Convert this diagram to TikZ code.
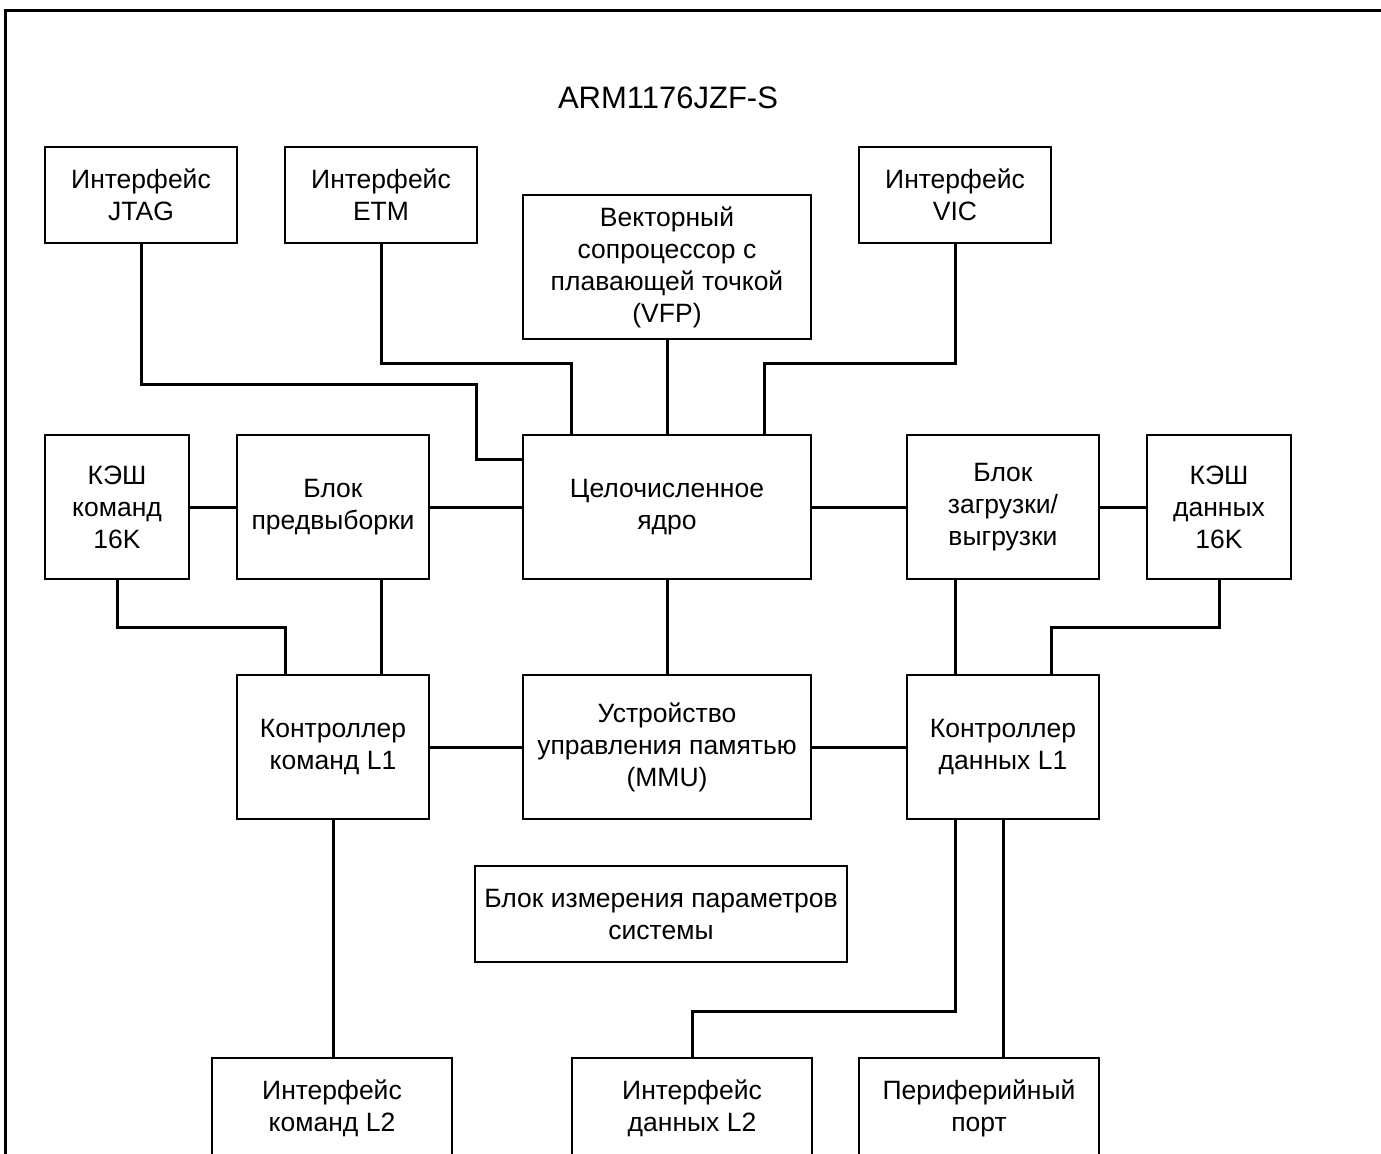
\documentclass[tikz,border=0pt]{standalone}
\usepackage{fontspec}
\setmainfont{Liberation Sans}
\usepackage{tikz}
\tikzset{
  block/.style={
      draw,
      line width=1pt,
      align=center,
      inner sep=0pt,
      font=\fontsize{13.25pt}{16pt}\selectfont
      },
  wire/.style={
      line width=1.5pt,
      line cap=rect
      }
}

\begin{document}
\begin{tikzpicture}[x=0.5pt,y=-0.5pt]
\useasboundingbox (0,0) rectangle (1381,1153);
\clip (0,0) rectangle (1381,1153);
\draw [line width=1.5pt] (5,10) rectangle (1430,1220);
\node [font=\fontsize{15.5pt}{18pt}\selectfont] (title) at (668,98) {ARM1176JZF-S};
\node [block, minimum width=96pt, minimum height=48pt] (jtag) at (141,195) {Интерфейс\\JTAG};
\node [block, minimum width=96pt, minimum height=48pt] (etm) at (381,195) {Интерфейс\\ETM};
\node [block, minimum width=144pt, minimum height=72pt] (vfp) at (667,267) {Векторный\\сопроцессор с\\плавающей точкой\\(VFP)};
\node [block, minimum width=96pt, minimum height=48pt] (vic) at (955,195) {Интерфейс\\VIC};
\node [block, minimum width=72pt, minimum height=72pt] (icache) at (117,507) {КЭШ\\команд\\16K};
\node [block, minimum width=96pt, minimum height=72pt] (prefetch) at (333,507) {Блок\\предвыборки};
\node [block, minimum width=144pt, minimum height=72pt] (core) at (667,507) {Целочисленное\\ядро};
\node [block, minimum width=96pt, minimum height=72pt] (lsu) at (1003,507) {Блок\\загрузки/\\выгрузки};
\node [block, minimum width=72pt, minimum height=72pt] (dcache) at (1219,507) {КЭШ\\данных\\16K};
\node [block, minimum width=96pt, minimum height=72pt] (l1i) at (333,747) {Контроллер\\команд L1};
\node [block, minimum width=144pt, minimum height=72pt] (mmu) at (667,747) {Устройство\\управления памятью\\(MMU)};
\node [block, minimum width=96pt, minimum height=72pt] (l1d) at (1003,747) {Контроллер\\данных L1};
\node [block, minimum width=186pt, minimum height=48pt] (perf) at (661,914) {Блок измерения параметров\\системы};
\node [block, minimum width=120pt, minimum height=50pt] (l2i) at (332,1108) {Интерфейс\\команд L2};
\node [block, minimum width=120pt, minimum height=50pt] (l2d) at (692,1108) {Интерфейс\\данных L2};
\node [block, minimum width=120pt, minimum height=50pt] (port) at (979,1108) {Периферийный\\порт};
\draw [wire] (jtag.south) |- (476,384) |- ([yshift=24pt]core.west);
\draw [wire] (etm.south) |- (571,363) -- ([xshift=-48pt]core.north);
\draw [wire] (vfp) -- (core);
\draw [wire] (vic.south) |- (764,363) -- ([xshift=48.5pt]core.north);
\draw [wire] (icache) -- (prefetch);
\draw [wire] (prefetch) -- (core);
\draw [wire] (core) -- (lsu);
\draw [wire] (lsu) -- (dcache);
\draw [wire] (icache.south) |- (285,627) -- ([xshift=-24pt]l1i.north);
\draw [wire] ([xshift=24pt]prefetch.south) -- ([xshift=24pt]l1i.north);
\draw [wire] (core) -- (mmu);
\draw [wire] ([xshift=-24pt]lsu.south) -- ([xshift=-24pt]l1d.north);
\draw [wire] (dcache.south) |- (1051,627) -- ([xshift=24pt]l1d.north);
\draw [wire] (l1i) -- (mmu);
\draw [wire] (mmu) -- (l1d);
\draw [wire] (l1i.south) -- (l1i.south |- l2i.north);
\draw [wire] ([xshift=-24pt]l1d.south) |- (692,1011) -- (l2d.north);
\draw [wire] (l1d.south) -- (l1d.south |- port.north);
\end{tikzpicture}
\end{document}
